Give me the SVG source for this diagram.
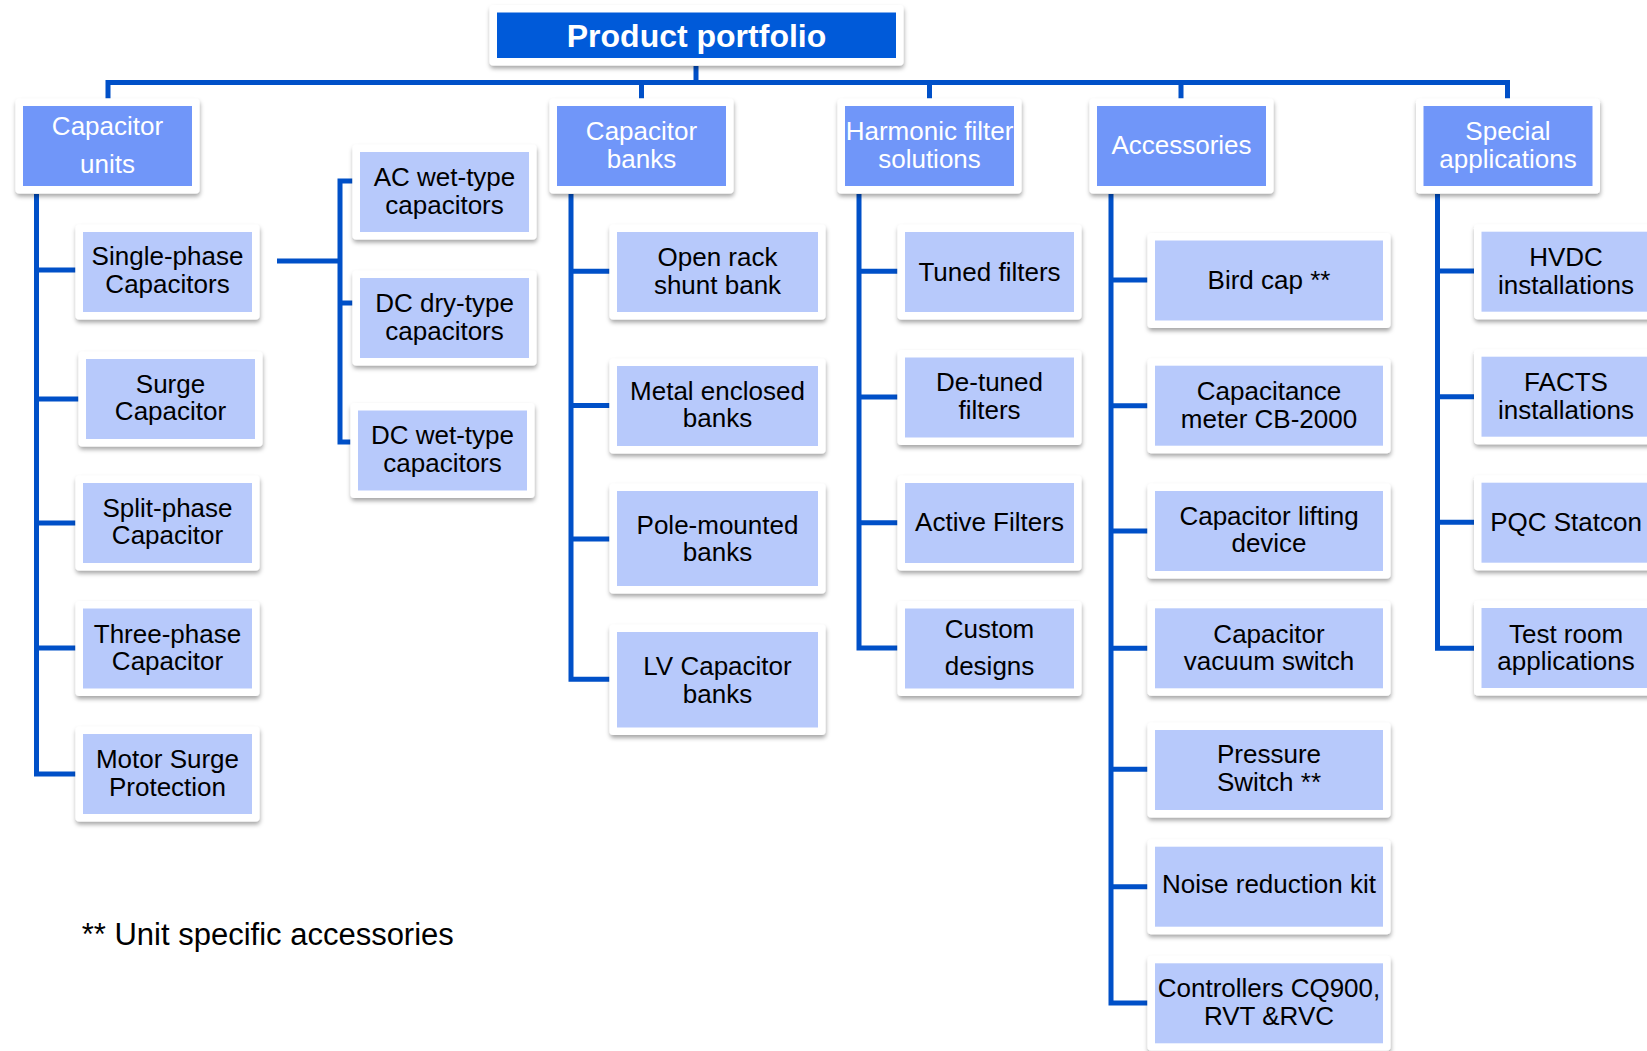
<svg xmlns="http://www.w3.org/2000/svg" width="1647" height="1051" viewBox="0 0 1647 1051">
<defs>
<filter id="sh" x="-10%" y="-10%" width="125%" height="135%">
<feDropShadow dx="0.5" dy="3" stdDeviation="2" flood-color="#000" flood-opacity="0.35"/>
</filter>
<style>
.fr{fill:#fff;filter:url(#sh)}
.top{fill:#005ad9}
.l1{fill:#7096f9}
.l2{fill:#b7c9fb}
.t{font-family:"Liberation Sans",Arial,sans-serif;font-size:26px;text-anchor:middle;fill:#000}
.w{fill:#fff}
.h{font-weight:bold;font-size:32px}
.c{stroke:#0050c8;stroke-width:5;fill:none;stroke-linejoin:miter;stroke-linecap:butt}
.fn{font-family:"Liberation Sans",Arial,sans-serif;font-size:31px;fill:#000}
</style>
</defs>
<rect width="1647" height="1051" fill="#fff"/>

<g id="connectors" class="c">
<path d="M696,66 V82.5"/>
<path d="M108,98.5 V82.5 H1507.5 V98.5"/>
<path d="M641.5,82.5 V98.5 M929.5,82.5 V98.5 M1181,82.5 V98.5"/>
<path d="M36.5,194 V774 H75.5 M36.5,270 H75.5 M36.5,399 H78.5 M36.5,523 H75.5 M36.5,648 H75.5"/>
<path d="M277,261 H340 M352.5,181 H340 V442 H350.5 M340,303 H352.5"/>
<path d="M571,194 V679.3 H609.5 M571,271.3 H609.5 M571,405.6 H609.5 M571,539 H609.5"/>
<path d="M859,194 V648 H897.5 M859,271.3 H897.5 M859,397 H897.5 M859,522.7 H897.5"/>
<path d="M1111,194 V1003 H1147.5 M1111,280 H1147.5 M1111,405.7 H1147.5 M1111,531 H1147.5 M1111,648.3 H1147.5 M1111,769.3 H1147.5 M1111,886.7 H1147.5"/>
<path d="M1437.5,194 V648.3 H1474 M1437.5,271 H1474 M1437.5,396.7 H1474 M1437.5,522.3 H1474"/>
</g>

<g id="n_root">
<rect class="fr" x="489.5" y="5" width="414" height="60.5" rx="4"/>
<rect class="top" x="497" y="12.5" width="399" height="45.5"/>
<text class="t w h" x="696.5" y="47">Product portfolio</text>
</g>

<g id="n_capacitor_units">
<rect class="fr" x="15.5" y="98.5" width="184" height="95" rx="4"/>
<rect class="l1" x="23" y="106" width="169" height="80"/>
<text class="t w" x="107.5" y="135">Capacitor</text>
<text class="t w" x="107.5" y="173">units</text>
</g>
<g id="n_capacitor_banks">
<rect class="fr" x="549.5" y="98.5" width="184" height="95" rx="4"/>
<rect class="l1" x="557" y="106" width="169" height="80"/>
<text class="t w" x="641.5" y="140">Capacitor</text>
<text class="t w" x="641.5" y="167.5">banks</text>
</g>
<g id="n_harmonic">
<rect class="fr" x="837.5" y="98.5" width="184" height="95" rx="4"/>
<rect class="l1" x="845" y="106" width="169" height="80"/>
<text class="t w" x="929.5" y="140">Harmonic filter</text>
<text class="t w" x="929.5" y="167.5">solutions</text>
</g>
<g id="n_accessories">
<rect class="fr" x="1089.5" y="98.5" width="184" height="95" rx="4"/>
<rect class="l1" x="1097" y="106" width="169" height="80"/>
<text class="t w" x="1181.5" y="154">Accessories</text>
</g>
<g id="n_special">
<rect class="fr" x="1416" y="98.5" width="184" height="95" rx="4"/>
<rect class="l1" x="1423.5" y="106" width="169" height="80"/>
<text class="t w" x="1508" y="140">Special</text>
<text class="t w" x="1508" y="167.5">applications</text>
</g>

<g id="n_single_phase">
<rect class="fr" x="75.5" y="224.5" width="184" height="95" rx="4"/>
<rect class="l2" x="83" y="232" width="169" height="80"/>
<text class="t" x="167.5" y="265">Single-phase</text>
<text class="t" x="167.5" y="293">Capacitors</text>
</g>
<g id="n_surge">
<rect class="fr" x="78.5" y="351.5" width="184" height="95" rx="4"/>
<rect class="l2" x="86" y="359" width="169" height="80"/>
<text class="t" x="170.5" y="392.5">Surge</text>
<text class="t" x="170.5" y="420">Capacitor</text>
</g>
<g id="n_split_phase">
<rect class="fr" x="75.5" y="475.5" width="184" height="95" rx="4"/>
<rect class="l2" x="83" y="483" width="169" height="80"/>
<text class="t" x="167.5" y="516.5">Split-phase</text>
<text class="t" x="167.5" y="544">Capacitor</text>
</g>
<g id="n_three_phase">
<rect class="fr" x="75.5" y="601" width="184" height="95" rx="4"/>
<rect class="l2" x="83" y="608.5" width="169" height="80"/>
<text class="t" x="167.5" y="642.5">Three-phase</text>
<text class="t" x="167.5" y="670">Capacitor</text>
</g>
<g id="n_motor_surge">
<rect class="fr" x="75.5" y="726.5" width="184" height="95" rx="4"/>
<rect class="l2" x="83" y="734" width="169" height="80"/>
<text class="t" x="167.5" y="768">Motor Surge</text>
<text class="t" x="167.5" y="795.5">Protection</text>
</g>

<g id="n_ac_wet">
<rect class="fr" x="352.5" y="144.5" width="184" height="95" rx="4"/>
<rect class="l2" x="360" y="152" width="169" height="80"/>
<text class="t" x="444.5" y="186">AC wet-type</text>
<text class="t" x="444.5" y="213.5">capacitors</text>
</g>
<g id="n_dc_dry">
<rect class="fr" x="352.5" y="270.5" width="184" height="95" rx="4"/>
<rect class="l2" x="360" y="278" width="169" height="80"/>
<text class="t" x="444.5" y="312">DC dry-type</text>
<text class="t" x="444.5" y="339.5">capacitors</text>
</g>
<g id="n_dc_wet">
<rect class="fr" x="350.5" y="403" width="184" height="95" rx="4"/>
<rect class="l2" x="358" y="410.5" width="169" height="80"/>
<text class="t" x="442.5" y="443.5">DC wet-type</text>
<text class="t" x="442.5" y="471.5">capacitors</text>
</g>

<g id="n_open_rack">
<rect class="fr" x="609.5" y="224.5" width="216" height="95" rx="4"/>
<rect class="l2" x="617" y="232" width="201" height="80"/>
<text class="t" x="717.5" y="266">Open rack</text>
<text class="t" x="717.5" y="293.5">shunt bank</text>
</g>
<g id="n_metal_enclosed">
<rect class="fr" x="609.5" y="358.5" width="216" height="95" rx="4"/>
<rect class="l2" x="617" y="366" width="201" height="80"/>
<text class="t" x="717.5" y="399.7">Metal enclosed</text>
<text class="t" x="717.5" y="427.3">banks</text>
</g>
<g id="n_pole_mounted">
<rect class="fr" x="609.5" y="483.5" width="216" height="110" rx="4"/>
<rect class="l2" x="617" y="491" width="201" height="95"/>
<text class="t" x="717.5" y="533.5">Pole-mounted</text>
<text class="t" x="717.5" y="561">banks</text>
</g>
<g id="n_lv_banks">
<rect class="fr" x="609.5" y="624.5" width="216" height="110.5" rx="4"/>
<rect class="l2" x="617" y="632" width="201" height="95.5"/>
<text class="t" x="717.5" y="675">LV Capacitor</text>
<text class="t" x="717.5" y="702.5">banks</text>
</g>

<g id="n_tuned">
<rect class="fr" x="897.5" y="224.5" width="184" height="95" rx="4"/>
<rect class="l2" x="905" y="232" width="169" height="80"/>
<text class="t" x="989.5" y="280.5">Tuned filters</text>
</g>
<g id="n_detuned">
<rect class="fr" x="897.5" y="350" width="184" height="95" rx="4"/>
<rect class="l2" x="905" y="357.5" width="169" height="80"/>
<text class="t" x="989.5" y="391">De-tuned</text>
<text class="t" x="989.5" y="418.5">filters</text>
</g>
<g id="n_active">
<rect class="fr" x="897.5" y="475.5" width="184" height="95" rx="4"/>
<rect class="l2" x="905" y="483" width="169" height="80"/>
<text class="t" x="989.5" y="531">Active Filters</text>
</g>
<g id="n_custom">
<rect class="fr" x="897.5" y="601" width="184" height="95" rx="4"/>
<rect class="l2" x="905" y="608.5" width="169" height="80"/>
<text class="t" x="989.5" y="637.5">Custom</text>
<text class="t" x="989.5" y="675">designs</text>
</g>

<g id="n_bird_cap">
<rect class="fr" x="1147.5" y="233" width="243" height="95" rx="4"/>
<rect class="l2" x="1155" y="240.5" width="228" height="80"/>
<text class="t" x="1269" y="288.5">Bird cap **</text>
</g>
<g id="n_cap_meter">
<rect class="fr" x="1147.5" y="358.2" width="243" height="95" rx="4"/>
<rect class="l2" x="1155" y="365.7" width="228" height="80"/>
<text class="t" x="1269" y="400">Capacitance</text>
<text class="t" x="1269" y="427.5">meter CB-2000</text>
</g>
<g id="n_lifting">
<rect class="fr" x="1147.5" y="483.5" width="243" height="95" rx="4"/>
<rect class="l2" x="1155" y="491" width="228" height="80"/>
<text class="t" x="1269" y="524.5">Capacitor lifting</text>
<text class="t" x="1269" y="552">device</text>
</g>
<g id="n_vacuum">
<rect class="fr" x="1147.5" y="600.8" width="243" height="95" rx="4"/>
<rect class="l2" x="1155" y="608.3" width="228" height="80"/>
<text class="t" x="1269" y="642.5">Capacitor</text>
<text class="t" x="1269" y="670">vacuum switch</text>
</g>
<g id="n_pressure">
<rect class="fr" x="1147.5" y="722.5" width="243" height="95" rx="4"/>
<rect class="l2" x="1155" y="730" width="228" height="80"/>
<text class="t" x="1269" y="763.3">Pressure</text>
<text class="t" x="1269" y="790.8">Switch **</text>
</g>
<g id="n_noise">
<rect class="fr" x="1147.5" y="839.2" width="243" height="95" rx="4"/>
<rect class="l2" x="1155" y="846.7" width="228" height="80"/>
<text class="t" x="1269" y="893.3">Noise reduction kit</text>
</g>
<g id="n_controllers">
<rect class="fr" x="1147.5" y="955.8" width="243" height="95" rx="4"/>
<rect class="l2" x="1155" y="963.3" width="228" height="80"/>
<text class="t" x="1269" y="996.7">Controllers CQ900,</text>
<text class="t" x="1269" y="1025">RVT &amp;RVC</text>
</g>

<g id="n_hvdc">
<rect class="fr" x="1474" y="224.2" width="184" height="95" rx="4"/>
<rect class="l2" x="1481.5" y="231.7" width="169" height="80"/>
<text class="t" x="1566" y="266">HVDC</text>
<text class="t" x="1566" y="293.5">installations</text>
</g>
<g id="n_facts">
<rect class="fr" x="1474" y="349.2" width="184" height="95" rx="4"/>
<rect class="l2" x="1481.5" y="356.7" width="169" height="80"/>
<text class="t" x="1566" y="391">FACTS</text>
<text class="t" x="1566" y="418.8">installations</text>
</g>
<g id="n_pqc">
<rect class="fr" x="1474" y="475.2" width="184" height="95" rx="4"/>
<rect class="l2" x="1481.5" y="482.7" width="169" height="80"/>
<text class="t" x="1566" y="531">PQC Statcon</text>
</g>
<g id="n_test_room">
<rect class="fr" x="1474" y="600.5" width="184" height="95" rx="4"/>
<rect class="l2" x="1481.5" y="608" width="169" height="80"/>
<text class="t" x="1566" y="642.5">Test room</text>
<text class="t" x="1566" y="670">applications</text>
</g>

<text class="fn" x="81.7" y="945">** Unit specific accessories</text>
</svg>
